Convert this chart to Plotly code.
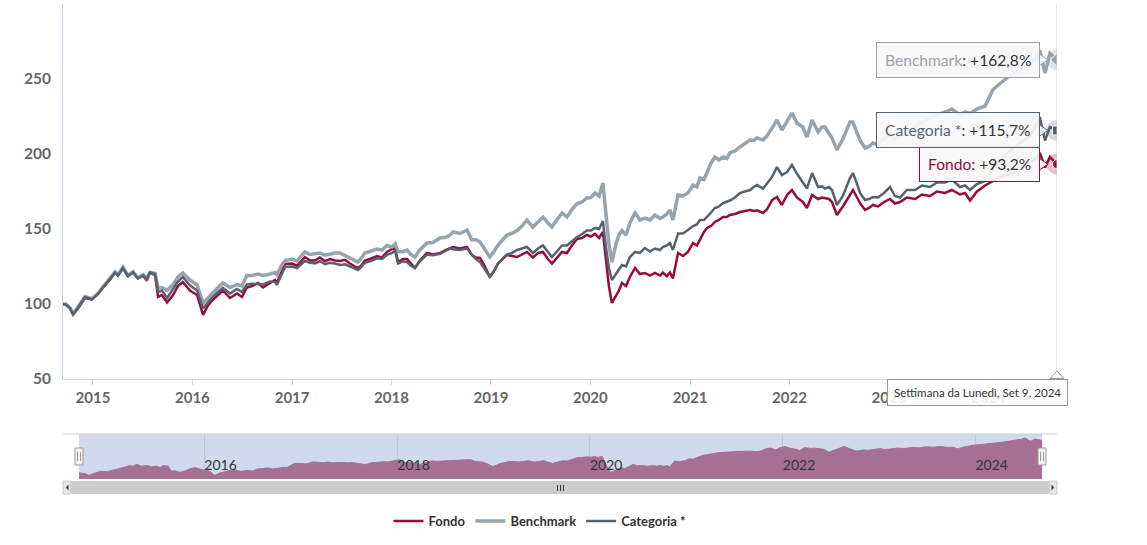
import plotly.graph_objects as go

dates = [
    "2014-09-13","2014-09-24","2014-10-09","2014-10-20","2014-11-07","2014-12-03","2014-12-28",
    "2015-01-16","2015-02-07","2015-03-04","2015-03-23","2015-04-03","2015-04-21","2015-05-09",
    "2015-05-28","2015-06-15","2015-07-04","2015-07-18","2015-07-29","2015-08-17","2015-08-28",
    "2015-09-11","2015-09-30","2015-10-22","2015-11-09","2015-11-27","2015-12-23",
    "2016-01-18","2016-02-09","2016-02-27","2016-03-17","2016-04-04","2016-04-22","2016-05-18",
    "2016-06-13","2016-07-01","2016-07-19","2016-08-07","2016-08-29","2016-09-16","2016-10-12",
    "2016-10-30","2016-11-06","2016-11-21","2016-12-06",
    "2017-01-01","2017-01-19","2017-02-17","2017-03-08","2017-03-26","2017-04-13","2017-05-02",
    "2017-05-20","2017-06-07","2017-06-26","2017-07-14","2017-08-01","2017-08-20","2017-08-31",
    "2017-09-14","2017-09-25","2017-10-14","2017-11-09","2017-11-27","2017-12-15",
    "2018-01-03","2018-01-14","2018-01-25","2018-02-12","2018-02-27","2018-03-13","2018-03-28",
    "2018-04-15","2018-05-11","2018-06-02","2018-06-28","2018-07-20","2018-08-04","2018-08-15",
    "2018-09-09","2018-10-05","2018-10-23","2018-11-07","2018-11-22","2018-12-10","2018-12-28",
    "2019-01-12","2019-01-27","2019-02-14","2019-03-01","2019-03-19","2019-04-07","2019-04-25",
    "2019-05-13","2019-06-04","2019-06-23","2019-07-11","2019-07-29","2019-08-13","2019-08-31",
    "2019-09-19","2019-10-07","2019-10-25","2019-11-13","2019-12-01","2019-12-19",
    "2020-01-03","2020-01-18","2020-02-02","2020-02-16","2020-02-27","2020-03-09","2020-03-20",
    "2020-04-04","2020-04-15","2020-04-26","2020-05-11","2020-05-25","2020-06-13","2020-07-01",
    "2020-07-19","2020-08-07","2020-08-25","2020-09-13","2020-09-23","2020-10-08","2020-10-19",
    "2020-10-30","2020-11-18","2020-12-06","2020-12-24",
    "2021-01-12","2021-01-26","2021-02-06","2021-02-21","2021-03-04","2021-03-19","2021-04-02",
    "2021-04-17","2021-05-02","2021-05-16","2021-05-27","2021-06-15","2021-07-03","2021-07-21",
    "2021-08-09","2021-08-23","2021-09-04","2021-09-26","2021-10-10","2021-10-29","2021-11-16",
    "2021-12-04","2021-12-23",
    "2022-01-10","2022-01-28","2022-02-19","2022-03-06","2022-03-25","2022-04-16","2022-04-30",
    "2022-05-11","2022-05-26","2022-06-06","2022-06-24","2022-07-16","2022-08-11","2022-08-22",
    "2022-09-06","2022-09-17","2022-10-05","2022-10-20","2022-11-03","2022-11-22","2022-12-14",
    "2023-01-05","2023-01-23","2023-02-11","2023-03-08","2023-04-07","2023-05-02","2023-06-01",
    "2023-06-26","2023-07-26","2023-08-20","2023-09-19","2023-10-07","2023-10-26","2023-11-20",
    "2023-12-20",
    "2024-01-18","2024-02-13","2024-03-13","2024-04-08","2024-05-03","2024-06-02","2024-06-24",
    "2024-07-08","2024-07-27","2024-08-14","2024-09-09",
]

fondo = [
    100, 99.5, 97, 93, 97, 104, 103,
    106, 111, 116, 121, 119, 124, 118.5,
    121, 117, 119, 115.5, 121, 119, 104.7,
    106, 101, 106, 112, 114.7, 109,
    106, 92.7, 99, 103, 106, 109, 104,
    107, 104.7, 111, 112, 114, 111, 114,
    116, 114, 121, 126.7,
    127, 125.5, 131.3, 129, 129, 131, 128.5,
    130, 129, 128.7, 129.5, 127, 125, 124,
    126, 129, 130, 132, 131, 134.7,
    136.7, 137, 128, 130, 130, 127, 124,
    129, 134, 133, 134, 136, 137.3, 138,
    137, 138, 132.7, 131, 130.7, 125, 118,
    122, 127, 130, 132.7, 132, 131.3, 133,
    134.7, 131, 134, 134.7, 130, 127, 131,
    134.7, 134, 139, 143.3, 144, 146,
    145, 146.7, 144, 148, 130, 112, 100.7,
    106, 109, 114, 112, 118, 124, 120,
    120.7, 119, 120.7, 119, 121, 118.5, 121,
    117, 134, 132, 134.7,
    140.7, 139, 142.7, 148, 150.7, 152, 154.7,
    156, 158, 158, 159.3, 160, 161.3, 162,
    162.7, 162, 162.5, 160.7, 163, 169.3, 171.3,
    166, 172.7,
    176, 171, 168, 164, 172.7, 170, 171,
    170.7, 170, 168, 159.3, 165, 172.7, 176,
    171, 167.3, 162.7, 164, 166, 165, 168,
    170, 167, 168, 171, 170, 173, 172,
    175, 174, 176, 173, 174, 169, 175,
    179,
    182, 185, 186, 188, 191, 194, 197,
    200.7, 191, 198, 193.2,
]

benchmark = [
    100, 99.8, 97.5, 93.5, 98, 105, 103.5,
    106.5, 111.5, 117, 121.5, 119.5, 124.5, 119,
    121.5, 117.5, 119.5, 117, 121, 120.5, 110.7,
    111, 109, 113, 118, 120.7, 116,
    112.7, 100.7, 104, 108, 111, 114, 111,
    113, 112, 119, 119, 120, 119, 120,
    121, 119.5, 125, 129,
    130, 128.7, 134.7, 133, 133.3, 134, 132.5,
    133.5, 134, 134, 132.5, 130.7, 129, 128,
    131, 134, 135, 136.7, 136, 139,
    138, 140, 134.7, 135, 136, 133, 131.3,
    136, 140.7, 141, 144, 144.5, 146, 148,
    147, 149.3, 142.7, 143, 141.3, 136, 131.3,
    135, 139.3, 143, 146, 147, 149, 152,
    156, 151.3, 155, 158, 154, 151.3, 156,
    160.7, 158, 163, 167, 168, 170.7,
    171, 174, 172, 180.7, 160, 140, 128,
    140, 146, 149, 146, 154, 160.7, 156,
    157.3, 156, 159.3, 157, 158, 160, 162.7,
    156, 172.7, 172, 174,
    179.3, 178, 184, 183, 187.3, 194, 198,
    196, 198, 197, 200.7, 202, 204.7, 207,
    209.3, 209, 210.7, 209.3, 212, 217.3, 222.7,
    216, 222,
    227.3, 220.7, 218, 211.3, 222.7, 214.7, 218,
    218, 214, 210.7, 202.7, 210, 221.3, 221.3,
    214, 209.3, 204, 205, 207.3, 206, 210,
    213, 210, 212, 216, 218, 221, 224,
    226, 228, 230, 226, 228, 227, 230,
    232,
    243, 247, 251, 255, 257, 260, 264,
    269, 254, 267, 262.8,
]

categoria = [
    100, 99.6, 97, 93, 97.5, 104.7, 103,
    106, 111, 116.5, 121, 119, 124, 118.7,
    121, 117, 119, 116.7, 121, 120, 108,
    109, 104, 110, 115, 118, 112.5,
    109, 97, 101, 105, 108, 110.7, 107,
    110, 108, 113, 113.5, 113, 113, 115,
    114.7, 112.7, 119, 124.7,
    125, 124, 128.7, 127.5, 127, 128.5, 126.5,
    127.5, 127, 126, 126.5, 125, 123.5, 122.7,
    125, 127.5, 128.5, 130.5, 130, 132.7,
    134, 135.5, 127, 128.5, 128, 125.5, 124,
    128.5, 133, 132.5, 133.5, 135.5, 137, 136.5,
    136, 137, 132.7, 130, 128, 123, 118,
    122, 127, 130.5, 133, 134, 136, 137,
    138, 134, 137, 139, 135, 131.3, 135,
    139, 139, 142, 144.7, 146.5, 149,
    149, 150.7, 150, 155.3, 138, 124, 116,
    120, 123, 126, 125, 131.3, 134.7, 134,
    137.3, 135, 137, 136, 138, 139, 140.7,
    136, 147, 147, 149.3,
    152, 153, 156, 156, 158, 161, 164,
    165, 167.3, 168, 169, 171, 174, 175,
    176, 178, 179.3, 177, 180, 184.7, 191.3,
    186, 188,
    192.7, 187, 180.7, 177, 187.3, 178, 178.5,
    177, 178, 176, 166, 172, 184, 187.3,
    180, 174, 169.3, 170, 171.3, 171, 174,
    178, 172, 171, 176, 176, 179, 178,
    181, 181, 183, 178, 179, 176, 180,
    182,
    190, 195, 201, 205, 208, 212, 219,
    224.7, 209, 218, 215.7,
]

series_names = ["Fondo", "Benchmark", "Categoria *"]
series_colors = ["#9b0a3d", "#98a4ac", "#56636e"]
series_widths = [2.5, 3.5, 2.5]
tooltip_values = ["+93,2%", "+162,8%", "+115,7%"]
marker_symbols = ["circle", "diamond", "square"]
halo_colors = ["rgba(155,10,61,0.25)", "rgba(152,164,172,0.3)", "rgba(86,99,110,0.25)"]

year_ticks = ["%d-01-01" % y for y in range(2015, 2025)]
year_labels = [str(y) for y in range(2015, 2025)]
nav_ticks = ["%d-01-01" % y for y in range(2016, 2025, 2)]
nav_labels = [str(y) for y in range(2016, 2025, 2)]
x_tooltip_text = "Settimana da Lunedì, Set 9, 2024"

W, H = 1147, 545
ML, MR, MT, MB = 63, 90, 4, 51
PW = W - ML - MR
PH = H - MT - MB


def px(x):
    return (x - ML) / PW


def py(y):
    return (H - MB - y) / PH


FONT = "Lato, 'Open Sans', sans-serif"

fig = go.Figure()

data = [fondo, benchmark, categoria]
for name, vals, col, w in zip(series_names, data, series_colors, series_widths):
    fig.add_trace(go.Scatter(
        x=dates, y=vals, name=name, mode="lines",
        line=dict(color=col, width=w), hoverinfo="skip",
        xaxis="x", yaxis="y",
    ))

# halos + end markers
for vals, col, sym, halo in zip(data, series_colors, marker_symbols, halo_colors):
    fig.add_trace(go.Scatter(
        x=[dates[-1]], y=[vals[-1]], mode="markers", showlegend=False, hoverinfo="skip",
        marker=dict(size=21, color=halo, line=dict(width=0)),
    ))
    fig.add_trace(go.Scatter(
        x=[dates[-1]], y=[vals[-1]], mode="markers", showlegend=False, hoverinfo="skip",
        marker=dict(size=9 if sym != "diamond" else 10, color=col, symbol=sym,
                    line=dict(width=1, color="white")),
    ))

# navigator series
fig.add_trace(go.Scatter(
    x=dates, y=fondo, mode="lines", fill="tozeroy", showlegend=False, hoverinfo="skip",
    line=dict(color="#a66f94", width=1), fillcolor="#a66f94",
    xaxis="x2", yaxis="y2",
))

main_bottom = py(379)
fig.update_layout(
    width=W, height=H,
    margin=dict(l=ML, r=MR, t=MT, b=MB),
    paper_bgcolor="white", plot_bgcolor="white",
    hovermode=False,
    font=dict(family=FONT, color="#333"),
    xaxis=dict(
        domain=[0, 1], range=[dates[0], dates[-1]], type="date",
        tickvals=year_ticks, ticktext=year_labels,
        showline=True, linecolor="#ccd6eb", linewidth=1,
        ticks="outside", ticklen=5, tickcolor="#ccd6eb",
        tickfont=dict(size=15, color="#666", weight="bold", family=FONT),
        showgrid=False, zeroline=False, anchor="y",
    ),
    yaxis=dict(
        domain=[main_bottom, 1], range=[50, 300],
        tickvals=[50, 100, 150, 200, 250],
        showline=True, linecolor="#ccd6eb", linewidth=1,
        ticks="", ticklabelstandoff=8,
        tickfont=dict(size=15.5, color="#666", weight="bold", family=FONT),
        showgrid=False, zeroline=False, anchor="x",
    ),
    xaxis2=dict(
        domain=[px(79), px(1042)], range=[dates[0], dates[-1]], type="date",
        tickvals=nav_ticks, ticktext=nav_labels,
        ticklabelposition="inside right", ticks="",
        tickfont=dict(size=14, color="#333", family=FONT),
        showgrid=True, gridcolor="#bfc7d9", gridwidth=1,
        showline=False, zeroline=False, anchor="y2",
    ),
    yaxis2=dict(
        domain=[py(479), py(434)], range=[82, 212],
        visible=False, showgrid=False, zeroline=False, anchor="x2",
    ),
    legend=dict(
        orientation="h", x=px(540), xanchor="center", y=py(521), yanchor="middle",
        font=dict(size=13, color="#333", weight="bold", family=FONT),
        itemwidth=30, tracegroupgap=0,
    ),
)

shapes = []
# navigator background mask
shapes.append(dict(type="rect", xref="x2 domain", yref="y2 domain", x0=0, x1=1, y0=0, y1=1,
                   fillcolor="#d1daed", line=dict(width=0), layer="below"))
# navigator outline top
shapes.append(dict(type="line", xref="paper", yref="paper", x0=0, x1=1, y0=py(434), y1=py(434),
                   line=dict(color="#cccccc", width=1)))
# scrollbar track, bar, buttons
shapes.append(dict(type="rect", xref="paper", yref="paper", x0=0, x1=1, y0=py(494), y1=py(481),
                   fillcolor="#f2f2f2", line=dict(color="#f2f2f2", width=0)))
shapes.append(dict(type="rect", xref="paper", yref="paper", x0=px(71), x1=px(1049), y0=py(494), y1=py(481),
                   fillcolor="#cccccc", line=dict(color="#cccccc", width=0)))
for bx0, bx1 in [(63, 71), (1049, 1057)]:
    shapes.append(dict(type="rect", xref="paper", yref="paper", x0=px(bx0), x1=px(bx1), y0=py(494), y1=py(481),
                       fillcolor="#e6e6e6", line=dict(color="#cccccc", width=1)))
shapes.append(dict(type="path", xref="paper", yref="paper",
                   path="M %f %f L %f %f L %f %f Z" % (px(68.5), py(484.5), px(68.5), py(490.5), px(66), py(487.5)),
                   fillcolor="#333", line=dict(width=0)))
shapes.append(dict(type="path", xref="paper", yref="paper",
                   path="M %f %f L %f %f L %f %f Z" % (px(1051.5), py(484.5), px(1051.5), py(490.5), px(1054), py(487.5)),
                   fillcolor="#333", line=dict(width=0)))
for gx in (557.5, 560.5, 563.5):
    shapes.append(dict(type="line", xref="paper", yref="paper", x0=px(gx), x1=px(gx), y0=py(485), y1=py(491),
                       line=dict(color="#333", width=1)))
# navigator handles
for hx in (79, 1042):
    shapes.append(dict(type="rect", xref="paper", yref="paper", x0=px(hx - 4), x1=px(hx + 4), y0=py(465), y1=py(448),
                       fillcolor="#f2f2f2", line=dict(color="#999999", width=1)))
    for lx in (hx - 1.5, hx + 1.5):
        shapes.append(dict(type="line", xref="paper", yref="paper", x0=px(lx), x1=px(lx), y0=py(452), y1=py(461),
                           line=dict(color="#999999", width=1)))
# crosshair
shapes.append(dict(type="line", xref="x", yref="y domain", x0=dates[-1], x1=dates[-1], y0=0, y1=1,
                   line=dict(color="#cccccc", width=1)))
# tooltip notches
bgs = "rgba(247,247,247,0.92)"
for vals, col in zip(data, series_colors):
    shapes.append(dict(type="path", xref="x", yref="y", xsizemode="pixel", ysizemode="pixel",
                       xanchor=dates[-1], yanchor=vals[-1],
                       path="M -18 6 L -9 0 L -18 -6 Z", fillcolor=bgs,
                       line=dict(color=col, width=1), layer="above"))
# x tooltip notch
shapes.append(dict(type="path", xref="paper", yref="paper",
                   path="M %f %f L %f %f L %f %f Z" % (px(1050), py(378.5), px(1057), py(371), px(1064), py(378.5)),
                   fillcolor="white", line=dict(color="#999999", width=1), layer="above"))
fig.update_layout(shapes=shapes)

annotations = []
for name, vals, col, tv in zip(series_names, data, series_colors, tooltip_values):
    annotations.append(dict(
        x=dates[-1], y=vals[-1], xref="x", yref="y", xanchor="right", yanchor="middle",
        xshift=-17, showarrow=False,
        text="<span style='color:%s'>%s</span>: %s" % (col, name, tv),
        font=dict(size=15.6, color="#333", family=FONT),
        bgcolor=bgs, bordercolor=col, borderwidth=1, borderpad=8,
    ))
annotations.append(dict(
    x=px(1068), y=py(392.5), xref="paper", yref="paper", xanchor="right", yanchor="middle",
    showarrow=False, text=x_tooltip_text,
    font=dict(size=11.6, color="#333", family=FONT),
    bgcolor="rgba(255,255,255,0.9)", bordercolor="#999999", borderwidth=1, borderpad=6,
))
fig.update_layout(annotations=annotations)

fig.write_html("out.html", config={"displayModeBar": False},
               post_script="document.body.style.margin='0';document.body.style.padding='0';")
